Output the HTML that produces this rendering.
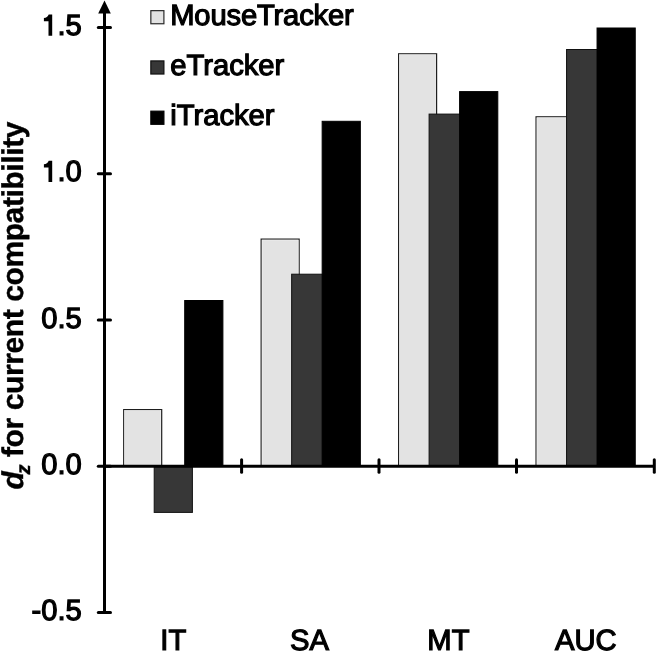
<!DOCTYPE html>
<html><head><meta charset="utf-8"><style>
html,body{margin:0;padding:0;background:#fff;}
body{width:657px;height:652px;overflow:hidden;}
svg{display:block;filter:grayscale(1);}
text{font-family:"Liberation Sans",sans-serif;fill:#000;text-rendering:geometricPrecision;}
.tl,.cl,.lg{font-size:29.2px;stroke:#000;stroke-width:1.2px;}
.yt{font-size:30px;font-weight:bold;letter-spacing:-0.4px;stroke:#000;stroke-width:0.4px;}
</style></head><body>
<svg width="657" height="652" viewBox="0 0 657 652">
<rect x="123.75" y="409.65" width="37.90" height="55.90" fill="#e3e3e3" stroke="#1e1e1e" stroke-width="1.3"/>
<rect x="124.65" y="410.55" width="36.10" height="54.15" fill="none" stroke="#f0f0f0" stroke-width="0.7"/>
<rect x="154.20" y="466.70" width="38.20" height="45.70" fill="#373737" stroke="#111111" stroke-width="1.0"/>
<rect x="184.70" y="300.50" width="38.20" height="165.20" fill="#000000" stroke="#000000" stroke-width="1.0"/>
<rect x="261.20" y="239.15" width="37.90" height="226.40" fill="#e3e3e3" stroke="#1e1e1e" stroke-width="1.3"/>
<rect x="262.10" y="240.05" width="36.10" height="224.65" fill="none" stroke="#f0f0f0" stroke-width="0.7"/>
<rect x="291.65" y="274.20" width="38.20" height="191.50" fill="#373737" stroke="#111111" stroke-width="1.0"/>
<rect x="322.15" y="121.30" width="38.20" height="344.40" fill="#000000" stroke="#000000" stroke-width="1.0"/>
<rect x="398.65" y="53.85" width="37.90" height="411.70" fill="#e3e3e3" stroke="#1e1e1e" stroke-width="1.3"/>
<rect x="399.55" y="54.75" width="36.10" height="409.95" fill="none" stroke="#f0f0f0" stroke-width="0.7"/>
<rect x="429.10" y="114.10" width="38.20" height="351.60" fill="#373737" stroke="#111111" stroke-width="1.0"/>
<rect x="459.60" y="91.60" width="38.20" height="374.10" fill="#000000" stroke="#000000" stroke-width="1.0"/>
<rect x="536.10" y="116.85" width="37.90" height="348.70" fill="#e3e3e3" stroke="#1e1e1e" stroke-width="1.3"/>
<rect x="537.00" y="117.75" width="36.10" height="346.95" fill="none" stroke="#f0f0f0" stroke-width="0.7"/>
<rect x="566.55" y="49.50" width="38.20" height="416.20" fill="#373737" stroke="#111111" stroke-width="1.0"/>
<rect x="597.05" y="28.00" width="38.20" height="437.70" fill="#000000" stroke="#000000" stroke-width="1.0"/>
<line x1="104.5" y1="10" x2="104.5" y2="613.93" stroke="#000" stroke-width="3"/>
<polygon points="104.5,0.6 98.2,13.6 110.8,13.6" fill="#000"/>
<line x1="103.0" y1="466.2" x2="654.3" y2="466.2" stroke="#000" stroke-width="3"/>
<line x1="98.3" y1="27.49" x2="110.5" y2="27.49" stroke="#000" stroke-width="3" stroke-linecap="round"/>
<line x1="98.3" y1="173.73" x2="110.5" y2="173.73" stroke="#000" stroke-width="3" stroke-linecap="round"/>
<line x1="98.3" y1="319.96" x2="110.5" y2="319.96" stroke="#000" stroke-width="3" stroke-linecap="round"/>
<line x1="98.3" y1="466.20" x2="110.5" y2="466.20" stroke="#000" stroke-width="3" stroke-linecap="round"/>
<line x1="98.3" y1="612.43" x2="110.5" y2="612.43" stroke="#000" stroke-width="3" stroke-linecap="round"/>
<line x1="241.60" y1="459.7" x2="241.60" y2="472.2" stroke="#000" stroke-width="3" stroke-linecap="round"/>
<line x1="379.00" y1="459.7" x2="379.00" y2="472.2" stroke="#000" stroke-width="3" stroke-linecap="round"/>
<line x1="516.50" y1="459.7" x2="516.50" y2="472.2" stroke="#000" stroke-width="3" stroke-linecap="round"/>
<line x1="654.30" y1="459.7" x2="654.30" y2="472.2" stroke="#000" stroke-width="3" stroke-linecap="round"/>
<text transform="translate(81.80,35.19) scale(1,1.0)" text-anchor="end" class="tl">.5</text>
<path d="M52.2 14.54 L52.2 35.69 L48.5 35.69 L48.5 21.19 L43.9 21.19 L43.9 18.09 Q47.4 17.89 48.7 14.54 Z" fill="#000"/>
<text transform="translate(81.80,181.43) scale(1,1.0)" text-anchor="end" class="tl">.0</text>
<path d="M52.2 160.78 L52.2 181.93 L48.5 181.93 L48.5 167.43 L43.9 167.43 L43.9 164.33 Q47.4 164.13 48.7 160.78 Z" fill="#000"/>
<text transform="translate(81.80,327.66) scale(1,1.0)" text-anchor="end" class="tl">0.5</text>
<text transform="translate(81.80,473.90) scale(1,1.0)" text-anchor="end" class="tl">0.0</text>
<text transform="translate(81.80,620.13) scale(1,1.0)" text-anchor="end" class="tl">-0.5</text>
<text transform="translate(173.25,649.70) scale(1,1.0)" text-anchor="middle" class="cl">IT</text>
<text transform="translate(309.45,649.70) scale(1,1.0)" text-anchor="middle" class="cl">SA</text>
<text transform="translate(448.45,649.70) scale(1,1.0)" text-anchor="middle" class="cl">MT</text>
<text transform="translate(585.80,649.70) scale(1,1.0)" text-anchor="middle" class="cl">AUC</text>
<rect x="150.85" y="10.65" width="13.05" height="13.1" fill="#e3e3e3" stroke="#2a2a2a" stroke-width="1.2"/>
<text transform="translate(170.20,24.90) scale(1,1.0)" text-anchor="start" class="lg" textLength="183.6" lengthAdjust="spacing">MouseTracker</text>
<rect x="150.85" y="60.92" width="13.05" height="13.1" fill="#373737" stroke="#111" stroke-width="1.2"/>
<text transform="translate(170.20,74.90) scale(1,1.0)" text-anchor="start" class="lg">eTracker</text>
<rect x="150.85" y="111.19" width="13.05" height="13.1" fill="#000" stroke="#000" stroke-width="1.2"/>
<text transform="translate(170.20,124.90) scale(1,1.0)" text-anchor="start" class="lg">iTracker</text>
<text transform="translate(23.0,489.5) rotate(-90)" class="yt"><tspan font-style="italic">d</tspan><tspan font-style="italic" font-size="20" dx="-2.8" dy="6.5">z</tspan><tspan dx="-0.2" dy="-6.5"> for current compatibility</tspan></text>
</svg>
</body></html>
